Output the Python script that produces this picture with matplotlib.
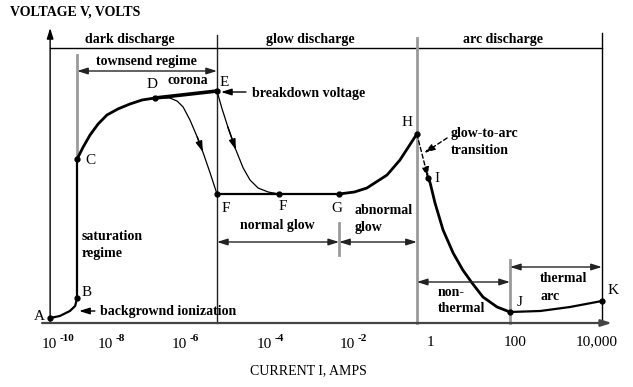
# Schematic V-I characteristic of a DC gas discharge (dark / glow / arc)

import matplotlib.pyplot as plt

plt.rcParams['font.family'] = ['Liberation Serif', 'DejaVu Serif']

# x = log10(current in amps), y = voltage (arbitrary units, schematic)
TICK_POS = [-9.38, -7.99, -6.15, -4.04, -1.99, -0.1, 2.0, 4.0]
TICK_BASE = ['10', '10', '10', '10', '10', '1', '100', '10,000']
TICK_EXP = ['-10', '-8', '-6', '-4', '-2', '', '', '']

# labelled points along the curve
POINT_NAMES = ['A', 'B', 'C', 'D', 'E', 'F', 'F', 'G', 'H', 'I', 'J', 'K']
POINT_X = [-9.55, -8.88, -8.88, -6.95, -5.41, -5.41, -3.87, -2.38, -0.45, -0.17, 1.86, 4.14]
POINT_Y = [5, 25, 164, 225, 232, 129, 129, 129, 189, 145, 11, 22]

# curve segments
AB_X = [-9.55, -9.31, -9.06, -8.93, -8.88]
AB_Y = [5, 7, 12, 17, 25]
BC_X = [-8.88, -8.88]
BC_Y = [25, 164]
CD_X = [-8.88, -8.73, -8.56, -8.36, -8.14, -7.87, -7.57, -7.27, -6.95]
CD_Y = [164, 176, 188, 199, 208, 214, 219, 223, 225]
DE_X = [-6.95, -5.41]
DE_Y = [225, 232]
CORONA_X = [-6.95, -6.58, -6.40, -6.25, -6.08, -5.90, -5.76, -5.58, -5.41]
CORONA_Y = [225, 225, 222, 216, 203, 186, 171, 150, 129]
EF_X = [-5.41, -5.29, -5.14, -4.94, -4.76, -4.59, -4.39, -4.14, -3.87]
EF_Y = [232, 215, 196, 173, 155, 143, 135, 131, 129]
FG_X = [-5.41, -3.87, -2.38]
FG_Y = [129, 129, 129]
GH_X = [-2.38, -2.0, -1.69, -1.19, -0.87, -0.45]
GH_Y = [129, 131, 135, 148, 163, 189]
HI_X = [-0.45, -0.17]
HI_Y = [189, 145]
IJ_X = [-0.17, -0.12, 0.0, 0.20, 0.45, 0.69, 0.92, 1.19, 1.54, 1.86]
IJ_Y = [145, 140, 120, 93, 70, 53, 40, 26, 16, 11]
JK_X = [1.86, 2.61, 3.35, 4.14]
JK_Y = [11, 12, 16, 22]

# regime boundaries (log10 I)
X_LEFT = -9.55
X_TOWNSEND = -8.88
X_GLOW = -5.41
X_ABNORMAL = -2.38
X_ARC = -0.45
X_THERMAL = 1.86
X_RIGHT = 4.14

fig = plt.figure(figsize=(6.33, 3.87), dpi=100)
ax = fig.add_axes([0, 0, 1, 1])
ax.set_xlim(-10.794, 4.913)
ax.set_ylim(-64, 323)
ax.axis('off')

GRAY = '#9a9a9a'
BOLD = dict(fontsize=10, fontweight='bold')


def span(x0, x1, y, color='#222222'):
    ax.annotate('', xy=(x1, y), xytext=(x0, y),
                arrowprops=dict(arrowstyle='<|-|>,head_length=0.7,head_width=0.22',
                                color=color, lw=1, shrinkA=0, shrinkB=0,
                                mutation_scale=9))


def arrow(x0, y0, x1, y1, ls='-'):
    ax.annotate('', xy=(x1, y1), xytext=(x0, y0),
                arrowprops=dict(arrowstyle='-|>,head_length=0.7,head_width=0.22',
                                color='black', lw=1, ls=ls, shrinkA=0, shrinkB=0,
                                mutation_scale=9))


# axes with arrows
arrow(X_LEFT, 0, X_LEFT, 295)
ax.annotate('', xy=(4.39, 0), xytext=(-9.75, 0),
            arrowprops=dict(arrowstyle='-|>,head_length=0.7,head_width=0.22',
                            color='#444444', lw=1.6, shrinkA=0, shrinkB=0,
                            mutation_scale=9))

# header box and regime dividers
ax.plot([X_LEFT, X_RIGHT], [275, 275], color='black', lw=1)
ax.plot([X_GLOW, X_GLOW], [0, 288], color='#222222', lw=1)
ax.plot([X_ARC, X_ARC], [0, 285], color=GRAY, lw=2)
ax.plot([X_RIGHT, X_RIGHT], [0, 290], color='black', lw=1)
ax.plot([X_TOWNSEND, X_TOWNSEND], [164, 268], color=GRAY, lw=2)
ax.plot([X_ABNORMAL, X_ABNORMAL], [68, 100], color=GRAY, lw=2)
ax.plot([X_THERMAL, X_THERMAL], [0, 63], color=GRAY, lw=2)

# regime spans
span(X_TOWNSEND, X_GLOW, 252)
span(X_GLOW, X_ABNORMAL, 81)
span(X_ABNORMAL, X_ARC, 81)
span(X_ARC, X_THERMAL, 41)
span(X_THERMAL, X_RIGHT, 56)

# the curve
ax.plot(AB_X, AB_Y, color='black', lw=1.6)
ax.plot(BC_X, BC_Y, color='black', lw=1.6)
ax.plot(CD_X, CD_Y, color='black', lw=2)
ax.plot(DE_X, DE_Y, color='black', lw=2.6)
ax.plot(CORONA_X, CORONA_Y, color='black', lw=0.9)
ax.plot(EF_X, EF_Y, color='black', lw=0.9)
ax.plot(FG_X, FG_Y, color='black', lw=1.6)
ax.plot(GH_X, GH_Y, color='black', lw=2)
ax.plot(IJ_X, IJ_Y, color='black', lw=2)
ax.plot(JK_X, JK_Y, color='black', lw=1.6)
arrow(HI_X[0], HI_Y[0], HI_X[1], HI_Y[1], ls=(0, (3, 2)))
# direction arrows on the thin branches
arrow(CORONA_X[5], CORONA_Y[5], CORONA_X[6], CORONA_Y[6])
arrow(EF_X[2], EF_Y[2], EF_X[3], EF_Y[3])
ax.plot(POINT_X, POINT_Y, 'o', color='black', ms=3.5)

# point letters
LETTER_POS = [(-9.83, 7), (-8.64, 30), (-8.56, 162), (-7.02, 238), (-5.24, 241),
              (-5.19, 115), (-3.77, 117), (-2.43, 114), (-0.69, 200), (0.05, 145),
              (2.11, 20), (4.42, 33)]
for name, (lx, ly) in zip(POINT_NAMES, LETTER_POS):
    ax.text(lx, ly, name, fontsize=11, ha='center', va='center')

# region labels
ax.text(-10.55, 311, 'VOLTAGE V, VOLTS', ha='left', va='center', **BOLD)
ax.text(-7.57, 283, 'dark discharge', ha='center', va='center', **BOLD)
ax.text(-3.10, 283, 'glow discharge', ha='center', va='center', **BOLD)
ax.text(1.69, 284, 'arc discharge', ha='center', va='center', **BOLD)
ax.text(-7.15, 261, 'townsend regime', ha='center', va='center', **BOLD)
ax.text(-6.13, 242, 'corona', ha='center', va='center', **BOLD)
ax.text(-4.54, 230, 'breakdown voltage', ha='left', va='center', **BOLD)
arrow(-4.69, 231, -5.31, 231)
ax.text(0.40, 189, 'glow-to-arc', ha='left', va='center', **BOLD)
ax.text(0.40, 172, 'transition', ha='left', va='center', **BOLD)
arrow(0.30, 185, -0.27, 170, ls=(0, (3, 2)))
ax.text(-8.76, 86, 'saturation', ha='left', va='center', **BOLD)
ax.text(-8.76, 70, 'regime', ha='left', va='center', **BOLD)
ax.text(-8.31, 12, 'backgrownd ionization', ha='left', va='center', **BOLD)
arrow(-8.44, 12, -8.83, 12)
ax.text(-3.92, 97, 'normal glow', ha='center', va='center', **BOLD)
ax.text(-1.99, 113, 'abnormal', ha='left', va='center', **BOLD)
ax.text(-1.99, 96, 'glow', ha='left', va='center', **BOLD)
ax.text(0.07, 30, 'non-', ha='left', va='center', **BOLD)
ax.text(0.07, 14, 'thermal', ha='left', va='center', **BOLD)
ax.text(2.61, 44, 'thermal', ha='left', va='center', **BOLD)
ax.text(2.63, 26, 'arc', ha='left', va='center', **BOLD)

# x tick labels (powers of ten drawn as base + raised exponent) and axis title
for pos, base, exp in zip(TICK_POS, TICK_BASE, TICK_EXP):
    if exp:
        ax.text(pos, -22, base, fontsize=11, ha='right', va='center')
        ax.annotate(exp, xy=(pos, -22), xytext=(2, 5), textcoords='offset points',
                    fontsize=8, fontweight='bold', ha='left', va='center')
    else:
        ax.text(pos, -19, base, fontsize=11, ha='center', va='center')
ax.text(-3.15, -48, 'CURRENT I, AMPS', fontsize=10, ha='center', va='center')

fig.savefig('out.png', dpi=100)
